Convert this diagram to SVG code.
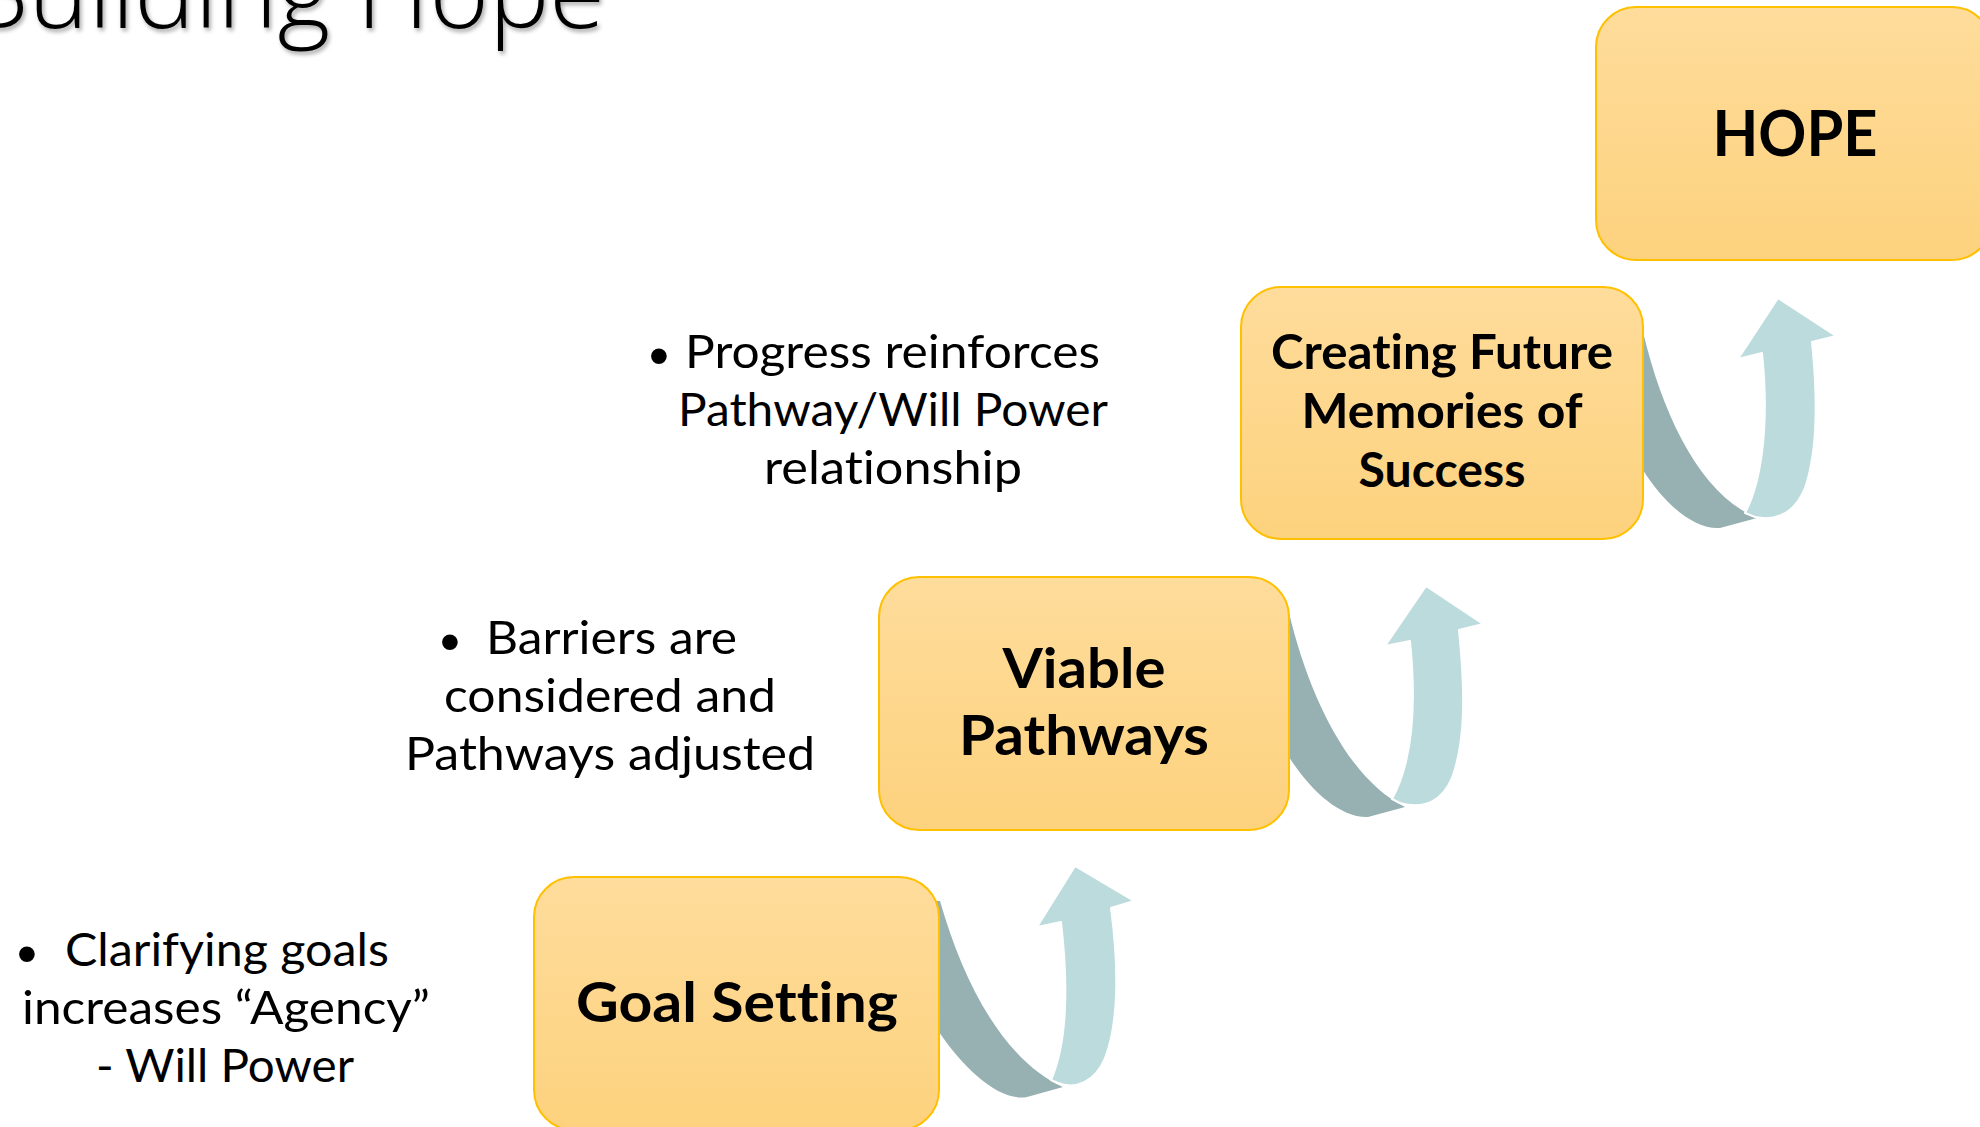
<svg xmlns="http://www.w3.org/2000/svg" width="1980" height="1127" viewBox="0 0 1980 1127">
<style>
text{font-variant-ligatures:none;font-feature-settings:"liga" 0,"clig" 0}
.box{fill:url(#gold);stroke:#FFC000;stroke-width:2}
.lbl{font-family:Lato,"Open Sans","Liberation Sans",sans-serif;font-weight:700;fill:#000;text-anchor:middle}
.body{font-family:Lato,"Open Sans","Liberation Sans",sans-serif;font-weight:400;font-size:47px;fill:#000}
.bul{font-family:"Liberation Sans",Arial,sans-serif;font-size:58px;fill:#000;text-anchor:middle}
.back{fill:#97B0B1}
.front{fill:#BCDBDD;stroke:#fff;stroke-width:2;stroke-linejoin:round}
.title{font-family:"Open Sans",Lato,"Liberation Sans",sans-serif;font-weight:300;font-size:100px;fill:#000}
</style>
<defs>
<linearGradient id="gold" x1="0" y1="0" x2="0" y2="1">
<stop offset="0" stop-color="#FEDC9B"/>
<stop offset="1" stop-color="#FDD27E"/>
</linearGradient>
<filter id="shadow" x="-10%" y="-50%" width="120%" height="200%">
<feDropShadow dx="2" dy="3" stdDeviation="2" flood-color="#000" flood-opacity="0.35"/>
</filter>
</defs>
<rect x="0" y="0" width="1980" height="1127" fill="#fff"/>

<g id="title">
<text class="title" x="-35" y="28" textLength="640" lengthAdjust="spacingAndGlyphs" filter="url(#shadow)">Building Hope</text>
</g>

<g id="connectors">
<g id="arrow-goal-viable">
<path class="back" d="M940,901 C964,985 1004,1060 1063,1087 L1027,1097 C1000,1102 965,1070 939,1032 L920,1032 L920,901 Z"/>
<path class="front" d="M1051,1080 C1064,1050 1070,1000 1061,922 L1037,927 L1075,866 L1134,901 L1111,908 C1118,960 1120,1020 1105,1058 C1095,1082 1075,1090 1058,1083 Z"/>
</g>
<g id="arrow-viable-creating">
<path class="back" d="M1289,613 C1310,700 1350,780 1405,807 L1368,817 C1340,818 1310,790 1289,757 L1270,757 L1270,613 Z"/>
<path class="front" d="M1392,799 C1408,770 1418,720 1410,641 L1385,646 L1426,586 L1483,624 L1459,630 C1465,690 1466,740 1452,778 C1443,800 1425,810 1400,803 Z"/>
</g>
<g id="arrow-creating-hope">
<path class="back" d="M1643,332 C1664,420 1702,495 1757,518 L1720,528 C1695,530 1665,505 1643,470 L1625,470 L1625,332 Z"/>
<path class="front" d="M1745,513 C1760,485 1770,430 1762,353 L1738,359 L1778,298 L1836,336 L1812,342 C1818,400 1818,450 1805,488 C1796,510 1780,522 1755,517 Z"/>
</g>
</g>

<g id="node-goal">
<rect class="box" x="534" y="877" width="405" height="253" rx="40"/>
<text class="lbl" x="737" y="1022" font-size="56" textLength="322" lengthAdjust="spacingAndGlyphs">Goal Setting</text>
</g>

<g id="node-viable">
<rect class="box" x="879" y="577" width="410" height="253" rx="40"/>
<text class="lbl" x="1084" y="688" font-size="55" textLength="163" lengthAdjust="spacingAndGlyphs">Viable</text>
<text class="lbl" x="1084" y="755" font-size="55" textLength="250" lengthAdjust="spacingAndGlyphs">Pathways</text>
</g>

<g id="node-creating">
<rect class="box" x="1241" y="287" width="402" height="252" rx="40"/>
<text class="lbl" x="1442" y="369" font-size="47" textLength="342" lengthAdjust="spacingAndGlyphs">Creating Future</text>
<text class="lbl" x="1442" y="428" font-size="47" textLength="281" lengthAdjust="spacingAndGlyphs">Memories of</text>
<text class="lbl" x="1442" y="487" font-size="47" textLength="167" lengthAdjust="spacingAndGlyphs">Success</text>
</g>

<g id="node-hope">
<rect class="box" x="1596" y="7" width="396" height="253" rx="40"/>
<text class="lbl" x="1795" y="156" font-size="64" textLength="165" lengthAdjust="spacingAndGlyphs">HOPE</text>
</g>

<g id="note-progress">
<text class="bul" x="659" y="375">•</text>
<text class="body" x="685" y="368" textLength="415" lengthAdjust="spacingAndGlyphs">Progress reinforces</text>
<text class="body" x="893" y="426" text-anchor="middle" textLength="430" lengthAdjust="spacingAndGlyphs">Pathway/Will Power</text>
<text class="body" x="893" y="484" text-anchor="middle" textLength="258" lengthAdjust="spacingAndGlyphs">relationship</text>
</g>

<g id="note-barriers">
<text class="bul" x="450" y="661">•</text>
<text class="body" x="486" y="654" textLength="251" lengthAdjust="spacingAndGlyphs">Barriers are</text>
<text class="body" x="610" y="712" text-anchor="middle" textLength="332" lengthAdjust="spacingAndGlyphs">considered and</text>
<text class="body" x="610" y="770" text-anchor="middle" textLength="410" lengthAdjust="spacingAndGlyphs">Pathways adjusted</text>
</g>

<g id="note-clarifying">
<text class="bul" x="27" y="973">•</text>
<text class="body" x="65" y="966" textLength="324" lengthAdjust="spacingAndGlyphs">Clarifying goals</text>
<text class="body" x="226" y="1024" text-anchor="middle" textLength="408" lengthAdjust="spacingAndGlyphs">increases “Agency”</text>
<text class="body" x="225" y="1082" text-anchor="middle" textLength="258" lengthAdjust="spacingAndGlyphs">- Will Power</text>
</g>
</svg>
